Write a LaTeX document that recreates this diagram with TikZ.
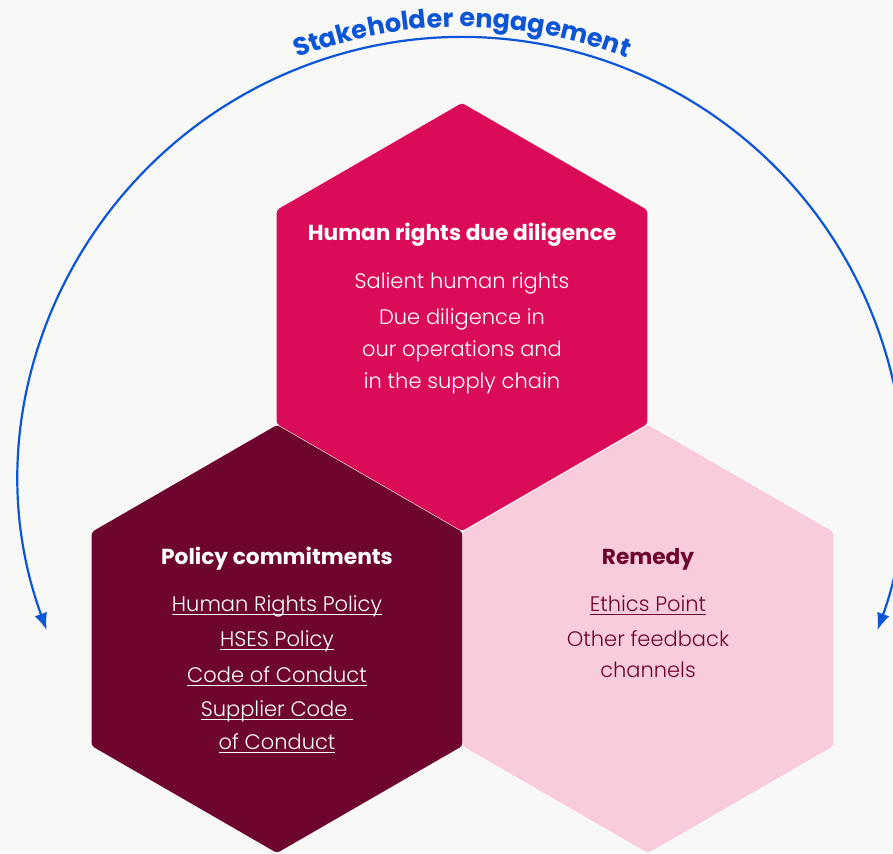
\documentclass[tikz,border=0pt]{standalone}
\usepackage{fontspec}
\setmainfont{Poppins}
\IfFontExistsTF{Poppins Light}{\newfontfamily\bodyfont{Poppins Light}}{\newfontfamily\bodyfont{Poppins}}
\newcommand\headfont{\bfseries}
\usetikzlibrary{arrows.meta,decorations.text}
\definecolor{bgc}{HTML}{F8F8F6}
\definecolor{hexTop}{HTML}{DA0C5A}
\definecolor{hexLeft}{HTML}{6E052E}
\definecolor{hexRight}{HTML}{F8CCDD}
\definecolor{engBlue}{HTML}{0B55D6}
\newcommand\linkul[1]{\setbox0=\hbox{#1}\rlap{\rule[-3pt]{\wd0}{1.2pt}}\box0}
\tikzset{engtip/.tip={Latex[length=17pt,width=13pt]}}
\begin{document}
\begin{tikzpicture}[x=1pt,y=1pt,
  headtxt/.style={anchor=base,inner sep=0pt,font=\headfont\fontsize{21.7}{24}\selectfont},
  bodytxt/.style={anchor=base,inner sep=0pt,font=\bodyfont\fontsize{21}{26}\selectfont}]
\fill[bgc] (0,0) rectangle (893,853);
\useasboundingbox (0,0) rectangle (893,853);
% hexagons
\fill[hexTop, rounded corners=3pt, shift={(462,536)}] (0,214) -- (185.3,107) -- (185.3,-107) -- (0,-214) -- (-185.3,-107) -- (-185.3,107) -- cycle;
\fill[hexLeft, rounded corners=3pt, shift={(277,214)}] (0,214) -- (185.3,107) -- (185.3,-107) -- (0,-214) -- (-185.3,-107) -- (-185.3,107) -- cycle;
\fill[hexRight, rounded corners=3pt, shift={(648,214)}] (0,214) -- (185.3,107) -- (185.3,-107) -- (0,-214) -- (-185.3,-107) -- (-185.3,107) -- cycle;
% top hexagon text
\node[headtxt, white] (tH) at (462,612) {Human rights due diligence};
\node[bodytxt, white] (t1) at (462,564) {Salient human rights};
\node[bodytxt, white] (t2) at (462,528) {Due diligence in};
\node[bodytxt, white] (t3) at (462,496) {our operations and};
\node[bodytxt, white] (t4) at (462,464) {in the supply chain};
% left hexagon text
\node[headtxt, white] (lH) at (277,288) {Policy commitments};
\node[bodytxt, white] (l1) at (277,241) {\linkul{Human Rights Policy}};
\node[bodytxt, white] (l2) at (277,206) {\linkul{HSES Policy}};
\node[bodytxt, white] (l3) at (277,170) {\linkul{Code of Conduct}};
\node[bodytxt, white] (l4) at (277,136) {\linkul{Supplier Code\ }};
\node[bodytxt, white] (l5) at (277,103) {\linkul{of Conduct}};
% right hexagon text
\node[headtxt, hexLeft] (rH) at (648,288) {Remedy};
\node[bodytxt, hexLeft] (r1) at (648,241) {\linkul{Ethics Point}};
\node[bodytxt, hexLeft] (r2) at (648,206) {Other feedback};
\node[bodytxt, hexLeft] (r3) at (648,175) {channels};
% stakeholder arc
\coordinate (arcL) at (46.7,222.8);
\coordinate (arcR) at (877.3,222.8);
\draw[engBlue, line width=2.2pt, {engtip}-{engtip}] (arcL) arc[start angle=200, end angle=-20, radius=442];
\coordinate (tstart) at (70.6,600);
\path[decorate, decoration={text along path, text align=center, text color=engBlue,
  text={|\bfseries\fontsize{25.6}{25.6}\selectfont|Stakeholder engagement}}]
  (tstart) arc[start angle=150, end angle=30, radius=452];
\end{tikzpicture}
\end{document}
